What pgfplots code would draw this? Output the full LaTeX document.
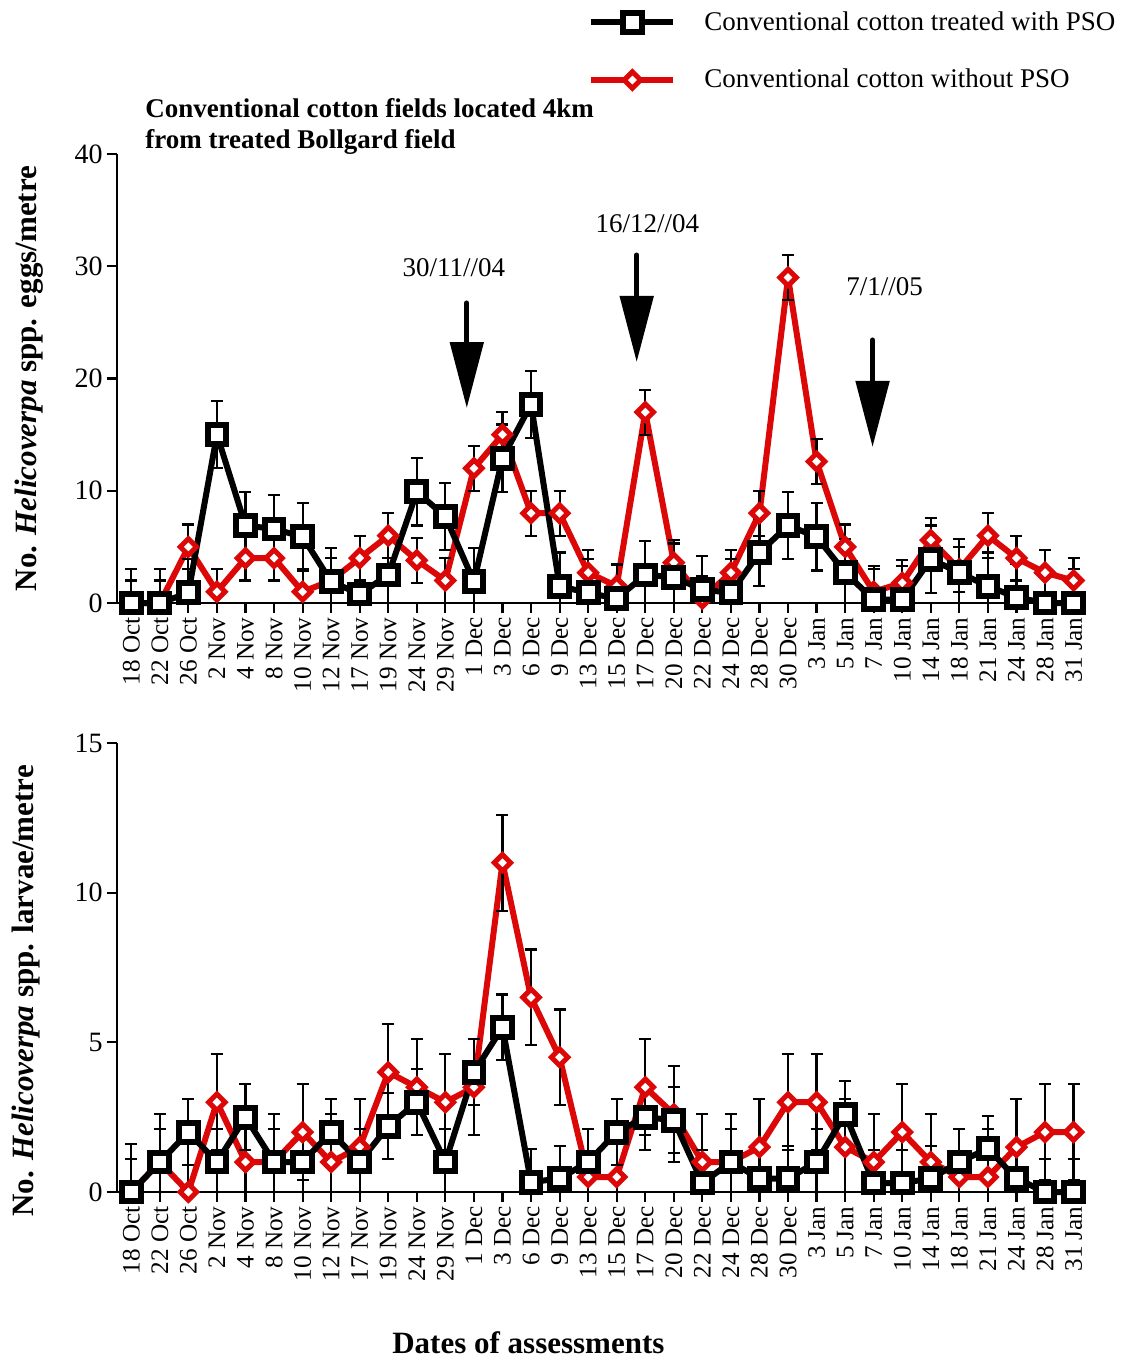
\documentclass[border=0pt]{standalone}
\usepackage{fontspec}
\setmainfont{Liberation Serif}
\usepackage{pgfplots}
\pgfplotsset{compat=1.18}
\usepackage{pgfplotstable}
\usetikzlibrary{arrows.meta}
\definecolor{pred}{RGB}{220,8,8}

% top panel: eggs
\pgfplotstableread{
x y ep em
0 0 3 0
1 0 3 0
2 0.9 3 0.9
3 15 3 3
4 6.9 3 3
5 6.6 3 3
6 5.9 3 3
7 1.9 3 1.9
8 0.8 3 0.8
9 2.5 3 2.5
10 9.9 3 3
11 7.7 3 3
12 1.9 3 1.9
13 12.9 3 3
14 17.7 3 3
15 1.5 3 1.5
16 0.9 3 0.9
17 0.4 3 0.4
18 2.5 3 2.5
19 2.3 3 2.3
20 1.2 3 1.2
21 0.9 3 0.9
22 4.5 3 3
23 6.9 3 3
24 5.9 3 3
25 2.7 3 2.7
26 0.3 3 0.3
27 0.3 3 0.3
28 3.9 3 3
29 2.7 3 2.7
30 1.5 3 1.5
31 0.5 3 0.5
32 0 3 0
33 0 3 0
}\topB
\pgfplotstableread{
x y ep em
0 0 2 0
1 0 2 0
2 5.0 2 2
3 1.0 2 1
4 4.0 2 2
5 4.0 2 2
6 1.0 2 1
7 2.0 2 2
8 4.0 2 2
9 6.0 2 2
10 3.8 2 2
11 2.0 2 2
12 12.0 2 2
13 15.0 2 2
14 8.0 2 2
15 8.0 2 2
16 2.7 2 2
17 1.5 2 1.5
18 17.0 2 2
19 3.6 2 2
20 0.4 2 0.4
21 2.7 2 2
22 8.0 2 2
23 29.0 2 2
24 12.6 2 2
25 5.0 2 2
26 1.0 2 1
27 1.8 2 1.8
28 5.6 2 2
29 3.0 2 2
30 6.0 2 2
31 4.0 2 2
32 2.7 2 2
33 2.0 2 2
}\topR
% bottom panel: larvae
\pgfplotstableread{
x y ep em
0 0 1.1 0
1 1.0 1.1 1.0
2 2.0 1.1 1.1
3 1.0 1.1 1.0
4 2.5 1.1 1.1
5 1.0 1.1 1.0
6 1.0 1.1 1.0
7 2.0 1.1 1.1
8 1.0 1.1 1.0
9 2.2 1.1 1.1
10 3.0 1.1 1.1
11 1.0 1.1 1.0
12 4.0 1.1 1.1
13 5.5 1.1 1.1
14 0.33 1.1 0.33
15 0.45 1.1 0.45
16 1.0 1.1 1.0
17 2.0 1.1 1.1
18 2.5 1.1 1.1
19 2.4 1.1 1.1
20 0.3 1.1 0.3
21 1.0 1.1 1.0
22 0.45 1.1 0.45
23 0.45 1.1 0.45
24 1.0 1.1 1.0
25 2.6 1.1 1.1
26 0.3 1.1 0.3
27 0.3 1.1 0.3
28 0.45 1.1 0.45
29 1.0 1.1 1.0
30 1.45 1.1 1.1
31 0.45 1.1 0.45
32 0 1.1 0
33 0 1.1 0
}\botB
\pgfplotstableread{
x y ep em
0 0 1.6 0
1 1.0 1.6 1.0
2 0 1.6 0
3 3.0 1.6 1.6
4 1.0 1.6 1.0
5 1.0 1.6 1.0
6 2.0 1.6 1.6
7 1.0 1.6 1.0
8 1.5 1.6 1.5
9 4.0 1.6 1.6
10 3.5 1.6 1.6
11 3.0 1.6 1.6
12 3.5 1.6 1.6
13 11.0 1.6 1.6
14 6.5 1.6 1.6
15 4.5 1.6 1.6
16 0.5 1.6 0.5
17 0.5 1.6 0.5
18 3.5 1.6 1.6
19 2.6 1.6 1.6
20 1.0 1.6 1.0
21 1.0 1.6 1.0
22 1.5 1.6 1.5
23 3.0 1.6 1.6
24 3.0 1.6 1.6
25 1.5 1.6 1.5
26 1.0 1.6 1.0
27 2.0 1.6 1.6
28 1.0 1.6 1.0
29 0.5 1.6 0.5
30 0.5 1.6 0.5
31 1.5 1.6 1.5
32 2.0 1.6 1.6
33 2.0 1.6 1.6
}\botR

\pgfplotsset{
  common/.style={
    scale only axis, width=484pt, height=224.5pt,
    xmin=-0.5, xmax=33.4, ymin=0,
    axis x line*=bottom, axis y line*=left,
    axis line style={line width=1.2pt, black},
    tick style={line width=1.1pt, black},
    major tick length=5pt, tick align=outside,
    xtick={0,...,33},
    xticklabels={18 Oct,22 Oct,26 Oct,2 Nov,4 Nov,8 Nov,10 Nov,12 Nov,17 Nov,19 Nov,24 Nov,29 Nov,1 Dec,3 Dec,6 Dec,9 Dec,13 Dec,15 Dec,17 Dec,20 Dec,22 Dec,24 Dec,28 Dec,30 Dec,3 Jan,5 Jan,7 Jan,10 Jan,14 Jan,18 Jan,21 Jan,24 Jan,28 Jan,31 Jan},
    xticklabel style={rotate=90, anchor=east, font=\fontsize{12.6}{13}\selectfont, inner sep=2pt},
    yticklabel style={font=\fontsize{14}{14}\selectfont, inner sep=2pt},
    /pgf/number format/assume math mode=true,
    clip=false,
    error bars/error bar style={line width=1.1pt, black, solid},
    error bars/error mark options={black, line width=1.1pt, mark size=3pt, solid, rotate=90},
  },
  sB/.style={draw=black, line width=3pt, line join=round, mark=square*, mark size=4.7pt,
    mark options={fill=white, draw=black, line width=3pt, line join=miter, solid, rotate=0}},
  sR/.style={draw=pred, line width=3pt, line join=round, mark=square*, mark size=2.9pt,
    mark options={fill=white, draw=pred, line width=2.5pt, line join=miter, solid, rotate=45}},
}

\begin{document}
\begin{tikzpicture}
\begin{axis}[common,
  at={(0pt,0pt)}, anchor=south west,
  ymax=40, ytick={0,10,20,30,40},
  ylabel={No. \textit{Helicoverpa} spp. eggs/metre},
  every axis y label/.style={at={(axis description cs:-0.0909,0.5)}, rotate=90, anchor=center, font=\fontsize{15.5}{16}\selectfont\bfseries},
  reverse legend,
  legend style={at={(axis description cs:0.4866,1.229)}, anchor=west, draw=none, fill=none,
    inner sep=0pt, row sep=14pt, column sep=12pt, font=\fontsize{13.5}{14}\selectfont,
    cells={anchor=west}},
  legend image code/.code={\draw[mark repeat=2, mark phase=2, #1] plot coordinates {(0pt,0pt) (20.5pt,0pt) (41pt,0pt)};},
]
\addplot[sR, error bars/.cd, y dir=both, y explicit] table[x=x, y=y, y error plus=ep, y error minus=em] {\topR};
\addlegendentry{Conventional cotton without PSO}
\addplot[sB, error bars/.cd, y dir=both, y explicit] table[x=x, y=y, y error plus=ep, y error minus=em] {\topB};
\addlegendentry{Conventional cotton treated with PSO}

\draw[line width=2.5pt, line cap=round, -{Triangle[width=16.5pt,length=33pt]}] (axis cs:11.75,26.73) -- (axis cs:11.75,17.37);
\draw[line width=2.5pt, line cap=round, -{Triangle[width=16.5pt,length=33pt]}] (axis cs:17.70,31.0) -- (axis cs:17.70,21.47);
\draw[line width=2.5pt, line cap=round, -{Triangle[width=16.5pt,length=33pt]}] (axis cs:25.96,23.43) -- (axis cs:25.96,13.90);
\node[font=\fontsize{13.5}{14}\selectfont] at (axis cs:11.30,29.89) {30/11//04};
\node[font=\fontsize{13.5}{14}\selectfont] at (axis cs:18.07,33.76) {16/12//04};
\node[font=\fontsize{13.5}{14}\selectfont] at (axis cs:26.38,28.2) {7/1//05};
\node[anchor=north west, align=left, inner sep=0pt, font=\fontsize{13.5}{15.5}\selectfont\bfseries]
  at (axis description cs:0.0289,1.1247) {Conventional cotton fields located 4km\\from treated Bollgard field};
\end{axis}

\begin{axis}[common,
  at={(0pt,-294.5pt)}, anchor=south west,
  ymax=15, ytick={0,5,10,15},
  ylabel={No. \textit{Helicoverpa} spp. larvae/metre},
  every axis y label/.style={at={(axis description cs:-0.094,0.448)}, rotate=90, anchor=center, font=\fontsize{15.5}{16}\selectfont\bfseries},
  xlabel={Dates of assessments},
  every axis x label/.style={at={(axis description cs:0.425,-0.336)}, anchor=center, font=\fontsize{15.5}{16}\selectfont\bfseries},
]
\addplot[sR, error bars/.cd, y dir=both, y explicit] table[x=x, y=y, y error plus=ep, y error minus=em] {\botR};
\addplot[sB, error bars/.cd, y dir=both, y explicit] table[x=x, y=y, y error plus=ep, y error minus=em] {\botB};
\end{axis}
\pgfresetboundingbox
\path[use as bounding box] (-58.5pt,-378.5pt) rectangle (503.5pt,301.5pt);
\end{tikzpicture}
\end{document}
